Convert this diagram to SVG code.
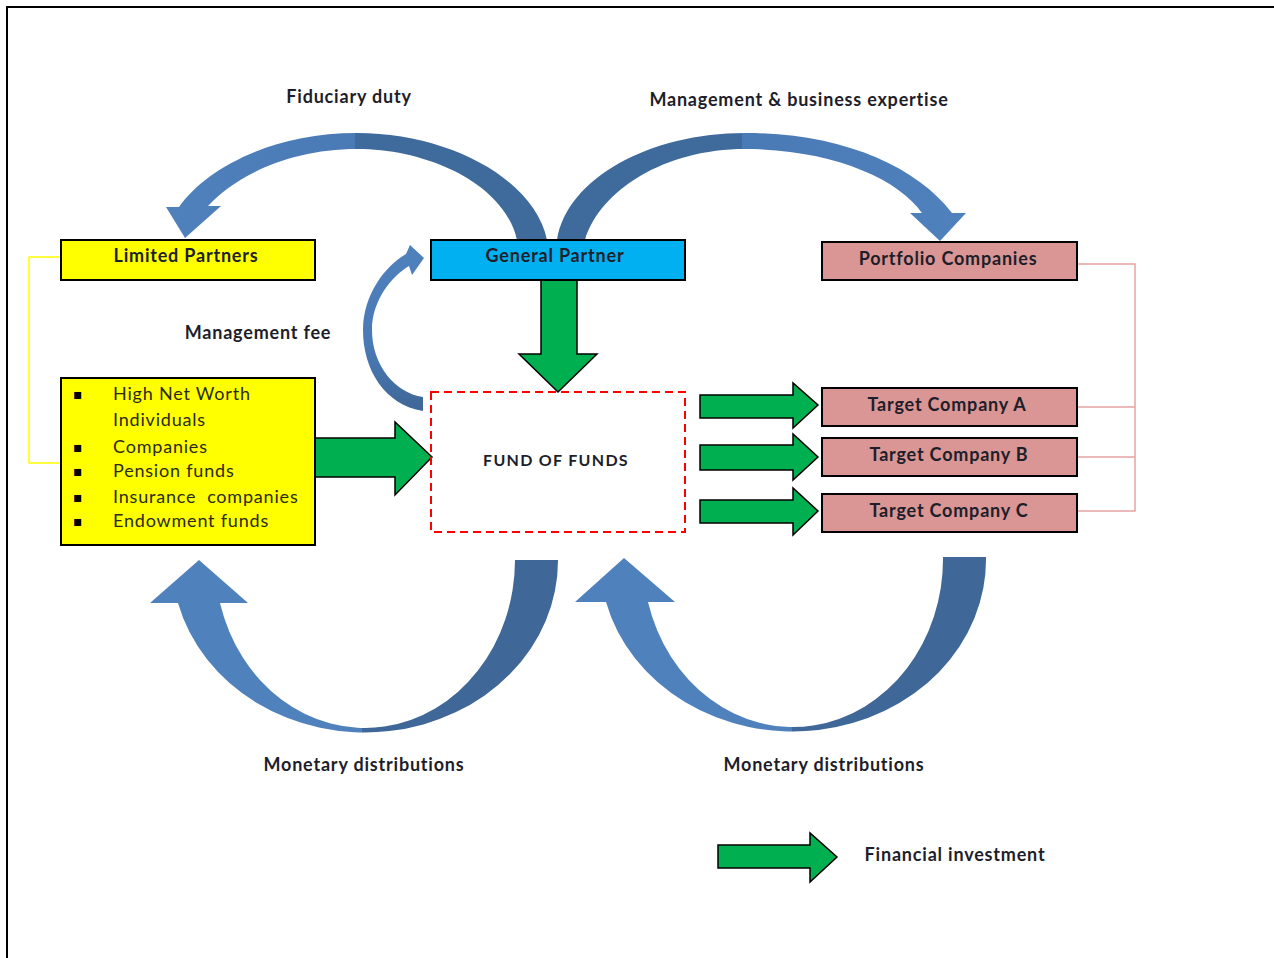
<svg xmlns="http://www.w3.org/2000/svg" width="1274" height="958" viewBox="0 0 1274 958">
<defs>
<style>
.box{stroke:#000;stroke-width:2}
.lbl{font-family:Lato,"Liberation Sans",sans-serif;font-weight:bold;font-size:18px;letter-spacing:0.8px;fill:#1e1e2a;text-anchor:middle}
.lst{font-family:Lato,"Liberation Sans",sans-serif;font-size:18px;letter-spacing:0.8px;fill:#2a2a1a}
.bul{font-family:"DejaVu Sans",sans-serif;font-size:14px;fill:#000}
.green{fill:#00B050;stroke:#000;stroke-width:1.5;stroke-linejoin:miter}
.brk{fill:none;stroke-width:1.5}
</style>
<linearGradient id="gTL" gradientUnits="userSpaceOnUse" x1="160" y1="0" x2="550" y2="0">
<stop offset="0" stop-color="#4F81BD"/><stop offset="0.5" stop-color="#4A7AB5"/><stop offset="0.5" stop-color="#3F6A9C"/><stop offset="1" stop-color="#3F6A9C"/>
</linearGradient>
<linearGradient id="gTR" gradientUnits="userSpaceOnUse" x1="555" y1="0" x2="970" y2="0">
<stop offset="0" stop-color="#3F6A9C"/><stop offset="0.45" stop-color="#3F6A9C"/><stop offset="0.45" stop-color="#4A7AB5"/><stop offset="1" stop-color="#4F81BD"/>
</linearGradient>
<linearGradient id="gBL" gradientUnits="userSpaceOnUse" x1="150" y1="0" x2="558" y2="0">
<stop offset="0" stop-color="#4F81BD"/><stop offset="0.52" stop-color="#4F81BD"/><stop offset="0.52" stop-color="#3F6797"/><stop offset="1" stop-color="#3F6797"/>
</linearGradient>
<linearGradient id="gBR" gradientUnits="userSpaceOnUse" x1="575" y1="0" x2="985" y2="0">
<stop offset="0" stop-color="#4F81BD"/><stop offset="0.53" stop-color="#4F81BD"/><stop offset="0.53" stop-color="#3F6797"/><stop offset="1" stop-color="#3F6797"/>
</linearGradient>
<linearGradient id="gMF" gradientUnits="userSpaceOnUse" x1="0" y1="245" x2="0" y2="411">
<stop offset="0" stop-color="#4F81BD"/><stop offset="0.6" stop-color="#4A7AB5"/><stop offset="1" stop-color="#3F6797"/>
</linearGradient>
</defs>
<rect width="1274" height="958" fill="#fff"/>
<path d="M7,958 V7 H1274" fill="none" stroke="#000" stroke-width="2"/>

<g id="connectors">
<path class="brk" stroke="#FFFF00" d="M61,257 H29 V463 H61"/>
<path class="brk" stroke="#E8A4A4" d="M1077,264 H1135 V511 H1077 M1077,407 H1135 M1077,457 H1135"/>
<path id="fiduciary" fill="url(#gTL)" d="M547,240 C535,180 450,133 357,133 C270,133 205,170 179,207 L166,207 L185,238 L221,206 L208,206 C235,176 290,149 357,149 C430,149 505,185 517,240 Z"/>
<path id="expertise" fill="url(#gTR)" d="M557,240 C567,178 650,133 745,133 C840,133 915,165 952,213 L966,213 L940,241 L910,213 L922,213 C898,178 830,149 745,149 C665,149 600,190 585,240 Z"/>
<path id="mgmtfee" fill="url(#gMF)" d="M423,411 C385,405 363,370 363,330 C363,295 385,266 406,254 L410,245 L424,258 L412,275 L409,266 C392,276 372,300 372,330 C372,365 395,393 423,397 Z"/>
<path id="distLeft" fill="url(#gBL)" d="M558,560 A193,172 0 0 1 178,603 L150,603 L199,560 L248,603 L220,603 A150,168 0 0 0 515,560 Z"/>
<path id="distRight" fill="url(#gBR)" d="M986,557 A193,172 0 0 1 606,602 L575,602 L624,558 L675,602 L648,602 A150,168 0 0 0 943,557 Z"/>
<polygon class="green" points="541,280 577,280 577,354 597,354 558,392 519,354 541,354"/>
<polygon class="green" points="315,438 395,438 395,422 432,457 395,495 395,477 315,477"/>
<polygon class="green" points="700,395 793,395 793,383 818,405 793,428 793,418 700,418"/>
<polygon class="green" points="700,445 793,445 793,434 818,457 793,480 793,470 700,470"/>
<polygon class="green" points="700,500 793,500 793,488 818,511 793,535 793,523 700,523"/>
</g>

<g id="lbl-fiduciary"><text class="lbl" x="349" y="103">Fiduciary duty</text></g>
<g id="lbl-expertise"><text class="lbl" x="799" y="106">Management &amp; business expertise</text></g>
<g id="lbl-mgmtfee"><text class="lbl" x="258" y="339">Management fee</text></g>
<g id="lbl-dist-left"><text class="lbl" x="364" y="771">Monetary distributions</text></g>
<g id="lbl-dist-right"><text class="lbl" x="824" y="771">Monetary distributions</text></g>

<g id="limited-partners">
<rect class="box" x="61" y="240" width="254" height="40" fill="#FFFF00"/>
<text class="lbl" x="186" y="262">Limited Partners</text>
</g>
<g id="general-partner">
<rect class="box" x="431" y="240" width="254" height="40" fill="#00B0F0"/>
<text class="lbl" x="555" y="262">General Partner</text>
</g>
<g id="portfolio-companies">
<rect class="box" x="822" y="242" width="255" height="38" fill="#D99694"/>
<text class="lbl" x="948" y="265">Portfolio Companies</text>
</g>
<g id="lp-list">
<rect class="box" x="61" y="378" width="254" height="167" fill="#FFFF00"/>
<text class="bul" x="73" y="399">▪</text>
<text class="bul" x="73" y="452">▪</text>
<text class="bul" x="73" y="476">▪</text>
<text class="bul" x="73" y="502">▪</text>
<text class="bul" x="73" y="526">▪</text>
<text class="lst" x="113" y="400">High Net Worth</text>
<text class="lst" x="113" y="426">Individuals</text>
<text class="lst" x="113" y="453">Companies</text>
<text class="lst" x="113" y="477">Pension funds</text>
<text class="lst" x="113" y="503" xml:space="preserve">Insurance  companies</text>
<text class="lst" x="113" y="527">Endowment funds</text>
</g>
<g id="fund-of-funds">
<rect x="431" y="392" width="254" height="140" fill="none" stroke="#FF0000" stroke-width="2" stroke-dasharray="8,5"/>
<text class="lbl" x="556" y="466" style="font-size:16px;letter-spacing:1.3px">FUND OF FUNDS</text>
</g>
<g id="target-a">
<rect class="box" x="822" y="388" width="255" height="38" fill="#D99694"/>
<text class="lbl" x="947" y="411">Target Company A</text>
</g>
<g id="target-b">
<rect class="box" x="822" y="438" width="255" height="38" fill="#D99694"/>
<text class="lbl" x="949" y="461">Target Company B</text>
</g>
<g id="target-c">
<rect class="box" x="822" y="494" width="255" height="38" fill="#D99694"/>
<text class="lbl" x="949" y="517">Target Company C</text>
</g>
<g id="legend">
<polygon class="green" points="718,845 810,845 810,833 837,857 810,882 810,868 718,868"/>
<text class="lbl" x="955" y="861">Financial investment</text>
</g>
</svg>
